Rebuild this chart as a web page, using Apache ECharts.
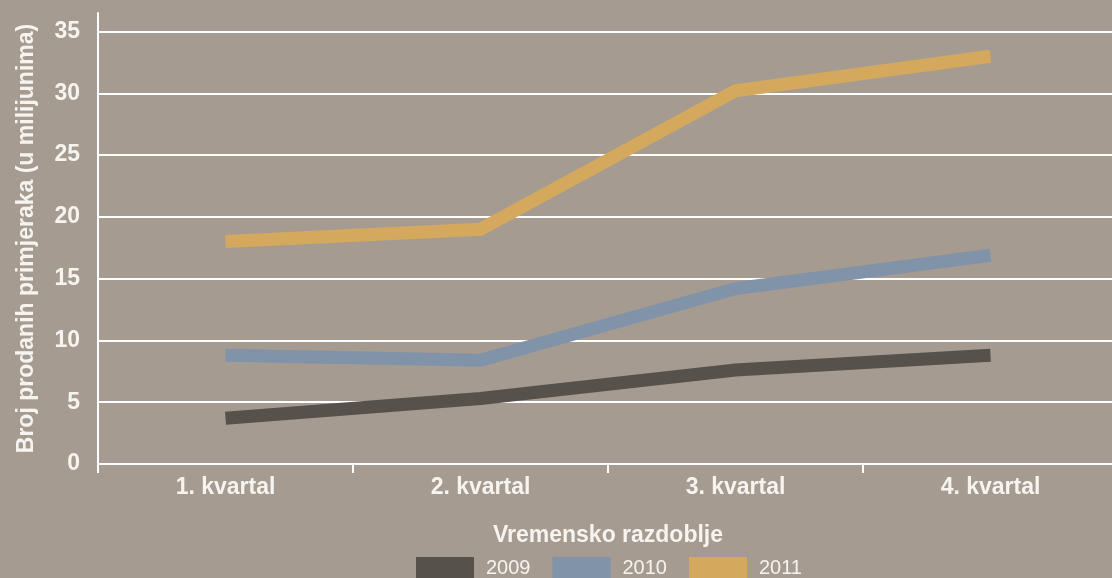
<!DOCTYPE html>
<html>
<head>
<meta charset="utf-8">
<script src="https://cdn.jsdelivr.net/npm/echarts@6/dist/echarts.min.js"></script>
<style>
  html, body { margin: 0; padding: 0; background: #a59b91; }
  #chart { width: 1112px; height: 578px; }
</style>
</head>
<body>
<div id="chart"></div>
<script>
const categories = ['1. kvartal', '2. kvartal', '3. kvartal', '4. kvartal'];
const years = ['2009', '2010', '2011'];
const sales2009 = [3.7, 5.3, 7.6, 8.8];
const sales2010 = [8.8, 8.4, 14.2, 16.9];
const sales2011 = [18, 19, 30.2, 33.0];
const yTicks = [0, 5, 10, 15, 20, 25, 30, 35];

const colors = ['#57514c', '#8093a8', '#d4a95e'];
const textColor = '#f7f4f0';
const font = 'Liberation Sans, Arial, sans-serif';

const chart = echarts.init(document.getElementById('chart'));

const option = {
  backgroundColor: '#a59b91',
  animation: false,
  color: colors,
  textStyle: { fontFamily: font },
  grid: { left: 98, top: 13, width: 1020, bottom: 114, containLabel: false, outerBoundsMode: 'none' },
  legend: {
    data: years,
    top: 557,
    left: 416,
    padding: 0,
    itemWidth: 58,
    itemHeight: 22,
    itemGap: 22,
    icon: 'rect',
    textStyle: { color: textColor, fontSize: 20, fontFamily: font, padding: [0, 0, 0, 7] }
  },
  xAxis: {
    type: 'category',
    data: categories,
    boundaryGap: true,
    name: 'Vremensko razdoblje',
    nameLocation: 'middle',
    nameGap: 60,
    nameTextStyle: { color: textColor, fontSize: 23, fontWeight: 'bold', fontFamily: font },
    axisLine: { lineStyle: { color: '#ffffff', width: 2 } },
    axisTick: { show: true, length: 9, lineStyle: { color: '#ffffff', width: 2 } },
    axisLabel: { color: textColor, fontSize: 23, fontWeight: 'bold', margin: 12, fontFamily: font },
    splitLine: { show: false }
  },
  yAxis: {
    type: 'value',
    min: 0,
    max: 36.5,
    interval: 5,
    name: 'Broj prodanih primjeraka (u milijunima)',
    nameLocation: 'middle',
    nameGap: 60,
    nameTextStyle: { color: textColor, fontSize: 23, fontWeight: 'bold', fontFamily: font },
    axisLine: { show: true, lineStyle: { color: '#ffffff', width: 2 } },
    axisTick: { show: false },
    axisLabel: {
      color: textColor, fontSize: 23, fontWeight: 'bold', margin: 18, fontFamily: font,
      showMaxLabel: false,
      formatter: v => (yTicks.indexOf(v) >= 0 ? String(v) : '')
    },
    splitLine: { show: true, showMaxLine: false, lineStyle: { color: '#ffffff', width: 2 } }
  },
  series: [
    { name: years[0], type: 'line', data: sales2009 },
    { name: years[1], type: 'line', data: sales2010 },
    { name: years[2], type: 'line', data: sales2011 }
  ].map(s => Object.assign(s, {
    symbol: 'none',
    lineStyle: { width: 13, cap: 'butt', join: 'miter' }
  }))
};

chart.setOption(option);
</script>
</body>
</html>
